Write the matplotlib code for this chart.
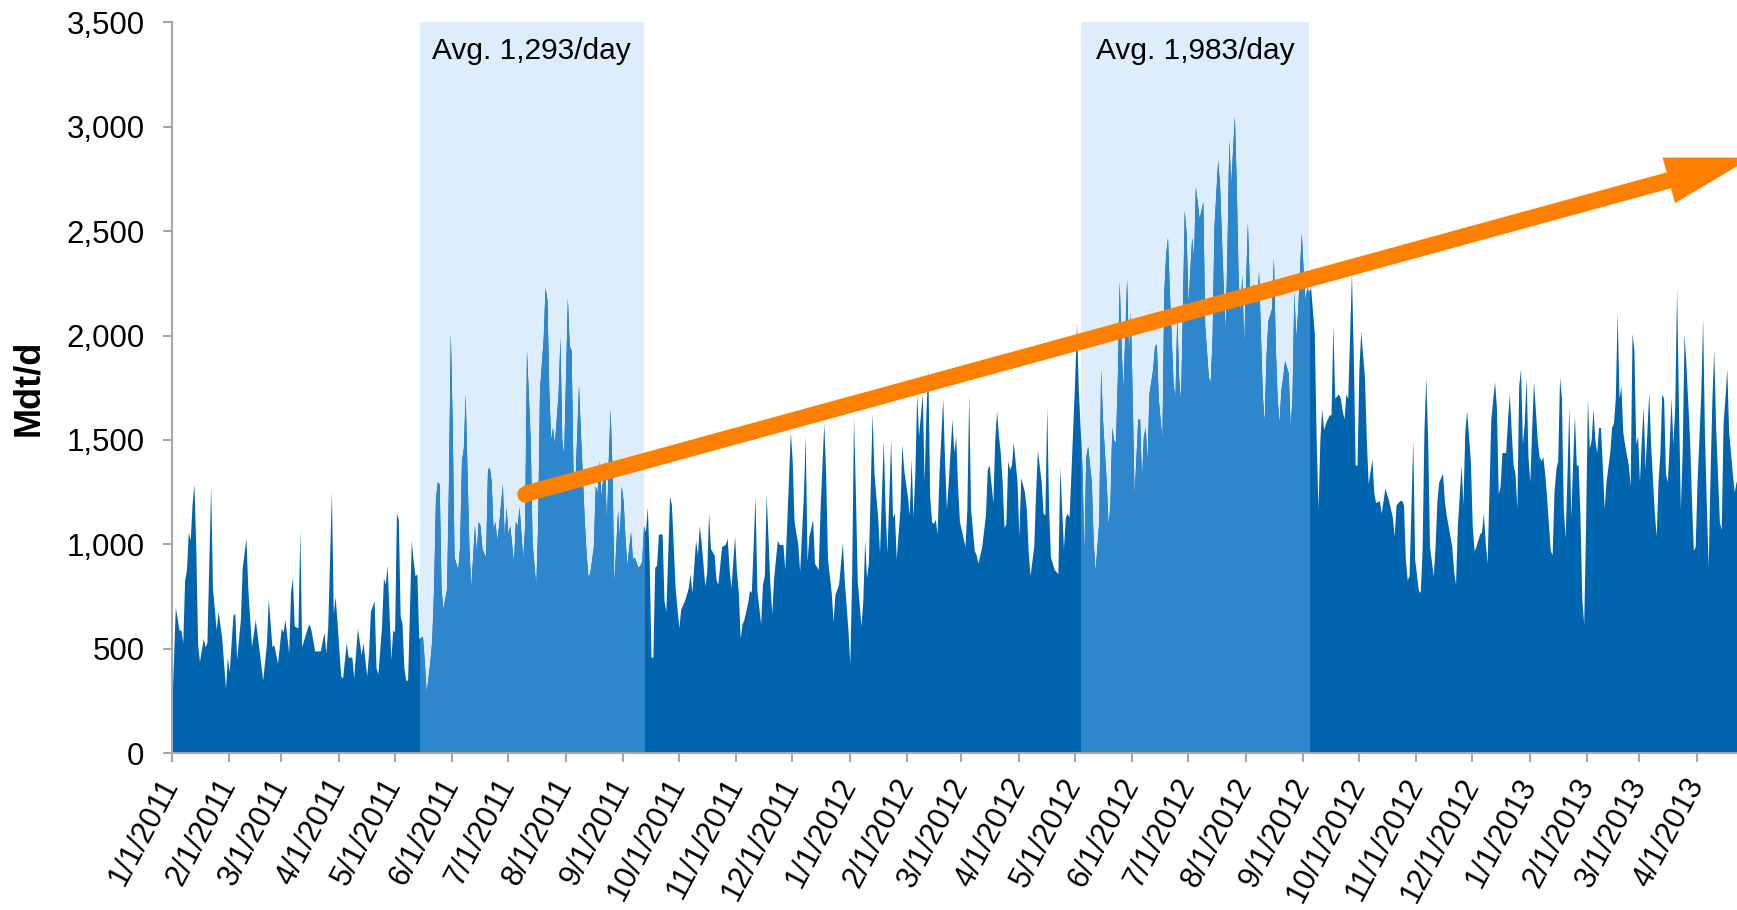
import numpy as np
import matplotlib
matplotlib.use('Agg')
import matplotlib.pyplot as plt
import matplotlib.dates as mdates
from matplotlib.patches import FancyArrowPatch
from matplotlib.ticker import FuncFormatter

plt.rcParams['font.family'] = ['Liberation Sans', 'DejaVu Sans']

# daily series, days counted from 1/1/2011
start = np.datetime64('2011-01-01')
day_offset = [
    0, 2, 4, 5, 6, 7, 8, 9, 10, 11, 12, 13, 14, 15, 17, 18, 19, 21, 22, 24, 25, 27, 29, 30, 31, 33, 34, 35, 37, 38,
    40, 41, 43, 45, 47, 49, 51, 52, 54, 55, 57, 59, 60, 61, 63, 64, 65, 66, 68, 69, 70, 71, 73, 74, 75, 77, 80, 82,
    83, 84, 86, 87, 88, 89, 91, 92, 94, 95, 97, 98, 100, 102, 103, 105, 106, 107, 109, 110, 111, 113, 114, 115, 116,
    118, 119, 120, 121, 122, 123, 124, 125, 126, 127, 129, 130, 131, 132, 133, 135, 136, 137,
    139, 140, 141, 142, 143, 144, 145, 146, 148, 149, 150, 151, 152, 154, 155, 156, 157, 158, 159, 160, 161, 163,
    164, 165, 166, 167, 169, 170, 171, 172, 173, 174, 175, 176, 178, 179, 180, 181, 182, 184, 185, 186, 187, 189,
    190, 191, 193, 194, 196, 197, 198, 200, 201, 202, 203, 204, 205, 206, 208, 209, 210, 211, 213, 214, 215, 216,
    217, 219, 220, 222, 223, 224, 225, 227, 228, 229, 230, 231, 233, 234, 235, 236, 237, 238, 240, 241, 242, 243,
    244, 245, 247, 248, 249, 251, 252, 253, 254, 255, 256, 257, 258, 259, 260, 261, 262, 264, 265, 266, 268, 269,
    271, 273, 274, 276,
    278, 279, 280, 282, 283, 284, 285, 287, 288, 289, 290, 292, 293, 294, 296, 298, 299, 300, 301, 303, 304, 305,
    306, 307, 308, 310, 311, 312, 314, 315, 317, 318, 319, 320, 322, 323, 324, 326, 327, 329, 330, 331, 333, 334,
    335, 337, 338, 340, 341, 342, 343, 345, 346, 348, 349, 351, 352, 353, 355, 356, 357, 359, 360, 361, 362, 364,
    365, 366, 367, 368, 369, 371, 372, 373, 374, 375, 377, 378, 380, 381, 383, 384, 385, 387, 388, 389, 390, 392,
    393, 394, 396, 397, 398, 399, 400, 401, 402, 404, 405, 406, 407, 408, 409, 410, 411, 412, 413, 415, 416, 417,
    418, 420, 421,
    422, 423, 424, 426, 427, 428, 429, 430, 432, 433, 434, 436, 438, 439, 440, 442, 443, 444, 445, 446, 447, 448,
    449, 450, 451, 452, 453, 455, 456, 457, 459, 460, 461, 462, 464, 465, 466, 468, 469, 470, 471, 472, 473, 475,
    476, 477, 478, 480, 481, 482, 483, 484, 486, 487, 488, 490, 491, 492, 493, 495, 496, 497, 499, 500, 501, 503,
    504, 505, 506, 507, 508, 509, 510, 511, 512, 514, 515, 516, 517, 518, 520, 521, 522, 523, 524, 525, 526, 528,
    529, 530, 531, 533, 534, 535, 536, 537, 539, 540, 541, 542, 543, 544, 545, 546, 547, 549, 550, 551, 552, 553,
    555, 556,
    558, 559, 560, 561, 563, 564, 566, 567, 568, 569, 570, 572, 573, 574, 575, 576, 577, 579, 580, 581, 582, 583,
    584, 585, 586, 587, 588, 589, 590, 592, 593, 594, 595, 596, 597, 598, 599, 601, 602, 603, 604, 605, 606, 607,
    608, 609, 610, 611, 612, 613, 615, 616, 617, 618, 619, 620, 621, 623, 624, 625, 626, 628, 629, 630, 631, 632,
    633, 635, 636, 637, 638, 639, 640, 642, 643, 644, 646, 647, 648, 650, 651, 652, 653, 655, 656, 657, 658, 659,
    661, 662, 663, 664, 665, 666, 668, 669, 671, 672, 673, 674, 675, 676, 677, 679, 680, 681, 682, 684, 685, 686,
    687, 689, 690, 691, 692, 694, 695, 696, 697, 699, 700, 701,
    702, 704, 705, 706, 707, 708, 709, 710, 712, 713, 714, 715, 716, 718, 719, 720, 721, 722, 723, 724, 725, 726,
    727, 728, 729, 730, 731, 732, 733, 735, 736, 737, 738, 739, 740, 742, 743, 744, 745, 746, 747, 748, 749, 750,
    751, 752, 753, 754, 755, 756, 757, 758, 759, 760, 761, 762, 763, 764, 765, 766, 767, 768, 769, 770, 771, 772,
    774, 775, 776, 777, 778, 779, 780, 781, 782, 784, 785, 786, 787, 788, 789, 790, 791, 792, 793, 794, 795, 796,
    798, 799, 800, 801, 802, 803, 804, 805, 806, 807, 808, 809, 810, 811, 812, 813, 814, 815, 817, 818, 819, 820,
    821, 823, 824, 825, 826, 827, 828, 829, 830, 831, 832, 833, 834, 835, 836, 837, 838, 840, 841, 842, 843,
]
mdt_per_day = [
    200, 700, 590, 590, 530, 830, 880, 1060, 1020, 1190, 1290, 990, 520, 440, 550, 510, 530, 1280, 790, 590, 680,
    550, 310, 460, 390, 660, 670, 450, 640, 890, 1030, 790, 510, 640, 500, 350, 520, 740, 510, 520, 430, 600, 580,
    640, 480, 770, 840, 610, 600, 1070, 510, 540, 600, 620, 590, 490, 490, 580, 480, 600, 1250, 670, 750, 630, 370,
    360, 530, 460, 460, 360, 600, 470, 530, 370, 480, 680, 730, 410, 380, 610, 840, 810, 900, 450, 590, 580, 1150,
    1120, 660, 620, 410, 350, 350, 1020, 920, 850, 860, 550, 560, 440, 290,
    440, 540, 790, 1220, 1300, 1290, 790, 690, 790, 1300, 2010, 1580, 940, 880, 990, 1400, 1460, 1720, 1340, 990,
    790, 1090, 960, 1110, 1090, 980, 940, 1360, 1370, 1300, 1070, 1110, 1020, 1090, 1290, 1030, 1180, 1050, 1090,
    910, 1110, 1090, 1180, 930, 1090, 1930, 1500, 1010, 800, 1090, 1740, 1990, 2230, 2170, 1740, 1500, 1560, 1480,
    1720, 1990, 1500, 1420, 2180, 1950, 1930, 1360, 1280, 1760, 1540, 1130, 970, 850, 860, 990, 1280, 1250, 1400,
    1230, 1400, 1090, 1400, 1650, 1360, 810, 1160, 1030, 1280, 1210, 1030, 900, 1060, 930, 940, 890, 900, 920, 1090,
    1060, 1180, 930, 460, 460, 890, 900, 1050, 1050, 730, 680, 1230, 1190, 790, 600, 690, 730,
    790, 860, 770, 1020, 950, 1090, 1010, 800, 870, 1150, 980, 950, 830, 810, 990, 1000, 1030, 890, 790, 1040, 870,
    770, 550, 620, 640, 720, 780, 770, 1230, 780, 620, 810, 850, 1240, 810, 670, 840, 1020, 1000, 1000, 880, 1090,
    1540, 1400, 1110, 1000, 870, 1230, 1520, 920, 1040, 1120, 910, 880, 1170, 1580, 1340, 930, 770, 630, 760, 810,
    910, 1010, 830, 590, 430, 850, 1610, 1250, 830, 610, 730, 1020, 840, 910, 1630, 1340, 1130, 960, 1500, 1170,
    960, 1500, 1130, 1150, 930, 1170, 1480, 1360, 1230, 1140, 1410, 1130, 1340, 1720, 1520, 1720, 1300, 1640, 1840,
    1230, 1110, 1100, 1120, 1050, 1340, 1700, 1400, 1170, 1300, 1600, 1440,
    1520, 1280, 1110, 1030, 990, 1170, 1720, 1170, 970, 950, 910, 990, 1140, 1360, 1380, 1200, 1500, 1640, 1520,
    1440, 1300, 1080, 1100, 1400, 1360, 1380, 1490, 1300, 1040, 1320, 1250, 1170, 970, 850, 990, 1250, 1450, 1300,
    1150, 1140, 1660, 1170, 940, 880, 870, 860, 1370, 980, 1130, 1150, 1130, 1340, 1780, 2060, 1740, 1360, 950,
    1420, 1470, 1300, 1010, 870, 1110, 1840, 1600, 1300, 1090, 1190, 1560, 1500, 1490, 1800, 2260, 1950, 1740,
    2270, 1900, 2110, 1700, 1230, 1600, 1600, 1300, 1520, 1560, 1400, 1720, 1840, 1950, 1960, 1700, 1500, 2210,
    2390, 2470, 2210, 1770, 1700, 2090, 1800, 1680, 2110, 2600, 2490, 2150, 2470, 2370, 2710, 2640, 2560, 2640,
    2050,
    1800, 1780, 1990, 2520, 2840, 2720, 2230, 2020, 2410, 2940, 2720, 3050, 2720, 2270, 2110, 2290, 1950, 2540,
    2250, 2170, 2250, 2210, 2130, 2310, 2010, 1720, 1580, 1900, 2070, 2130, 2370, 1950, 1700, 1580, 1740, 1800,
    1880, 1820, 1560, 1700, 2210, 1990, 2110, 2310, 2490, 2310, 2170, 2230, 2210, 2230, 2010, 1500, 1170, 1500,
    1650, 1550, 1580, 1620, 1620, 2050, 1700, 1720, 1700, 1640, 1600, 1720, 1700, 2300, 1900, 1380, 1380, 1840,
    2020, 1800, 1500, 1290, 1410, 1250, 1200, 1210, 1150, 1210, 1270, 1210, 1170, 1130, 1040, 1190, 1210, 1210,
    1190, 930, 830, 850, 1500, 930, 780, 770, 970, 1540, 1800, 1500, 990, 850, 990, 1210, 1300, 1340, 1210, 1140,
    1090, 990, 870, 810, 1090, 1380, 1190, 1540, 1640, 1400, 1090, 970,
    990, 1050, 1060, 1150, 1010, 910, 1250, 1600, 1780, 1660, 1240, 1280, 1440, 1440, 1600, 1720, 1540, 1380, 1340,
    1170, 1760, 1840, 1480, 1580, 1800, 1420, 1300, 1560, 1780, 1500, 1420, 1400, 1420, 1340, 1230, 970, 950, 1250,
    1360, 1400, 1800, 1700, 1170, 1030, 1340, 1660, 1130, 1380, 1620, 1380, 1380, 1130, 730, 620, 1090, 1700, 1460,
    1500, 1650, 1500, 1440, 1560, 1560, 1380, 1170, 1300, 1440, 1560, 1580, 1700, 2110, 1700, 1760, 1540, 1480,
    1380, 1280, 2010, 1930, 1480, 1520, 1300, 1500, 1660, 1360, 1540, 1730, 1480, 1150, 1040, 1300, 1440, 1720,
    1700, 1340, 1300, 1480, 1700, 1480, 1660, 2230, 1660, 1170, 1440, 2010, 1860, 1500, 1210, 970, 990, 1300, 1720,
    2080, 1520, 1190, 890, 1340, 1700, 1930, 1560, 1340, 1110, 1070, 1580, 1700, 1840, 1540, 1340, 1250, 1300, 1300,
]

highlight_ranges = [('2011-05-14T14', '2011-09-12T00'), ('2012-05-04T05', '2012-09-04T10')]
highlight_labels = ['Avg. 1,293/day', 'Avg. 1,983/day']

trend_start = ('2011-07-10T05', 1242)
trend_end = ('2013-04-30T12', 2852)

month_ticks = np.arange(np.datetime64('2011-01'), np.datetime64('2013-05'),
                        np.timedelta64(1, 'M')).astype('datetime64[D]')

dark_blue = '#0064AF'
mid_blue = '#2E86CC'
shade = '#DDEDFC'
orange = '#FF8000'
axis_grey = '#A6A6A6'

dates = start + np.array(day_offset).astype('timedelta64[D]')
vals = np.array(mdt_per_day)

fig = plt.figure(figsize=(17.37, 9.10), dpi=100)
ax = fig.add_axes([0.0988, 0.1722, 0.9012, 0.8034])

ax.fill_between(dates, vals, color=dark_blue, lw=0, zorder=2)

for (a, b), label in zip(highlight_ranges, highlight_labels):
    a = np.datetime64(a)
    b = np.datetime64(b)
    span = ax.axvspan(a, b, color=shade, lw=0, zorder=0)
    light = ax.fill_between(dates, vals, color=mid_blue, lw=0, zorder=3)
    light.set_clip_path(span)
    ax.text(a + (b - a) / 2, 3360, label, ha='center', va='center', fontsize=21.5, zorder=6)

# trend arrow
x0 = mdates.date2num(np.datetime64(trend_start[0]))
x1 = mdates.date2num(np.datetime64(trend_end[0]))
arrow = FancyArrowPatch((x0, trend_start[1]), (x1, trend_end[1]),
                        arrowstyle='simple,head_length=62,head_width=34,tail_width=11.8',
                        mutation_scale=1, color=orange, lw=0, shrinkA=0, shrinkB=0,
                        clip_on=False, zorder=5)
ax.add_patch(arrow)
ax.plot([x0], [trend_start[1]], 'o', ms=11.8, mew=0, color=orange, zorder=5)

ax.set_xlim(start, start + np.timedelta64(842 * 24 + 12, 'h'))
ax.set_ylim(0, 3500)
ax.set_yticks(np.arange(0, 3501, 500))
ax.yaxis.set_major_formatter(FuncFormatter(lambda v, p: f'{v:,.0f}'))

ax.set_xticks(month_ticks)
ax.set_xticklabels([f'{d.month}/{d.day}/{d.year}' for d in month_ticks.astype(object)],
                   rotation=62, ha='right', va='center', rotation_mode='anchor')

for s in ['top', 'right']:
    ax.spines[s].set_visible(False)
for s in ['left', 'bottom']:
    ax.spines[s].set_color(axis_grey)
    ax.spines[s].set_linewidth(1.5)
    ax.spines[s].set_zorder(7)

ax.tick_params(axis='both', colors=axis_grey, labelcolor='black', width=1.5, length=6.5,
               labelsize=22, direction='out')
ax.tick_params(axis='y', labelsize=22.5, pad=13)
ax.tick_params(axis='x', pad=13)

ax.set_ylabel('Mdt/d', fontsize=26, fontweight='bold')
ax.yaxis.set_label_coords(-0.08, 0.5)

fig.savefig('out.png', dpi=100)
